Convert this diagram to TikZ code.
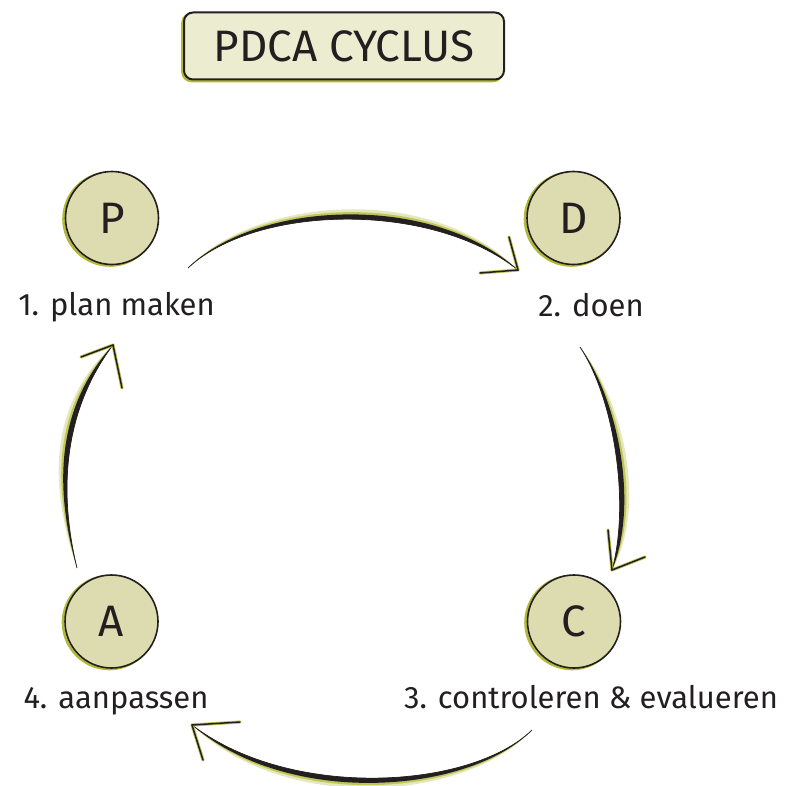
\documentclass[tikz,border=0pt]{standalone}
\usepackage{fontspec}
\setmainfont{Fira Sans}
\usetikzlibrary{calc}
\definecolor{ink}{RGB}{35,31,32}
\definecolor{circfill}{RGB}{221,219,176}
\definecolor{titlefill}{RGB}{236,237,208}
\definecolor{olive}{RGB}{178,185,55}
\definecolor{glowmid}{RGB}{192,198,90}
\definecolor{glowlight}{RGB}{229,231,188}
\newcommand{\brusharrow}[7]{%
 \fill[glowlight] #1 .. controls #2 and #3 .. #4 .. controls ($#3+18*#5$) and ($#2+8*#5$) .. #1 -- cycle;
 \fill[glowmid] #1 .. controls #2 and #3 .. #4 .. controls ($#3+13*#5$) and ($#2+5.5*#5$) .. #1 -- cycle;
 \fill[ink] #1 .. controls #2 and #3 .. #4 .. controls ($#3+9*#5$) and ($#2+3.5*#5$) .. #1 -- cycle;
 \draw[ink, line width=0.7pt] #1 .. controls #2 and #3 .. #4;
 \draw[glowmid, line width=3.2pt, line cap=round, line join=round] #6 -- #4 -- #7;
 \draw[ink, line width=1.5pt, line cap=round, line join=miter] #6 -- #4 -- #7;
}
\tikzset{
  circ/.style={circle, fill=circfill, draw=ink, line width=1.6pt, minimum size=93pt, inner sep=0pt,
    text=ink, font=\fontsize{44}{50}\selectfont},
  lab/.style={anchor=base, text=ink, inner sep=0pt, font=\fontsize{31}{36}\selectfont},
  titlebox/.style={rectangle, rounded corners=9pt, fill=titlefill, draw=ink, line width=2pt,
    minimum width=320pt, minimum height=67pt, inner sep=0pt, text=ink, font=\fontsize{44}{50}\selectfont},
  oliveline/.style={draw=olive, line width=2.6pt}
}
\begin{document}
\begin{tikzpicture}[x=1pt, y=-1pt]
\useasboundingbox (0,0) rectangle (785,786);
% title
\draw[oliveline, rounded corners=9pt] (182.5,14) rectangle (502,81);
\node[titlebox] (T) at (344,46) {PDCA CYCLUS};
% circles
\foreach \n/\x/\y in {P/112/218, D/573.5/218, A/111.5/621.5, C/574/621.5}{
  \draw[oliveline] ($(\x,\y)+(-2,1)$) circle (46.5);
}
\node[circ] (P) at (112,218) {P};
\node[circ] (D) at (573.5,218) {D};
\node[circ] (A) at (111.5,621.5) {A};
\node[circ] (C) at (574,621.5) {C};
% labels
\node[lab] (l1) at (116.5,315) {1. plan maken};
\node[lab] (l2) at (591,316) {2. doen};
\node[lab] (l3) at (591,708) {3. controleren \& evalueren};
\node[lab] (l4) at (116,708) {4. aanpassen};
% arrow coordinates
\coordinate (a1s) at (188,268); \coordinate (a1e) at (518,270);
\coordinate (a2s) at (580,347); \coordinate (a2e) at (612,570);
\coordinate (a3s) at (532,730); \coordinate (a3e) at (192,725);
\coordinate (a4s) at (77,568);  \coordinate (a4e) at (113,345);
% arrows
\brusharrow{(a1s)}{(255,205)}{(430,200)}{(a1e)}{(0,-1)}{(509,237)}{(480,273)}
\brusharrow{(a2s)}{(615,400)}{(630,505)}{(a2e)}{(1,0)}{(608,530)}{(645,557)}
\brusharrow{(a3s)}{(470,790)}{(290,800)}{(a3e)}{(0,1)}{(240,722)}{(203,760)}
\brusharrow{(a4s)}{(58,490)}{(64,410)}{(a4e)}{(-1,-0.15)}{(81,357)}{(122,388)}
\end{tikzpicture}
\end{document}
